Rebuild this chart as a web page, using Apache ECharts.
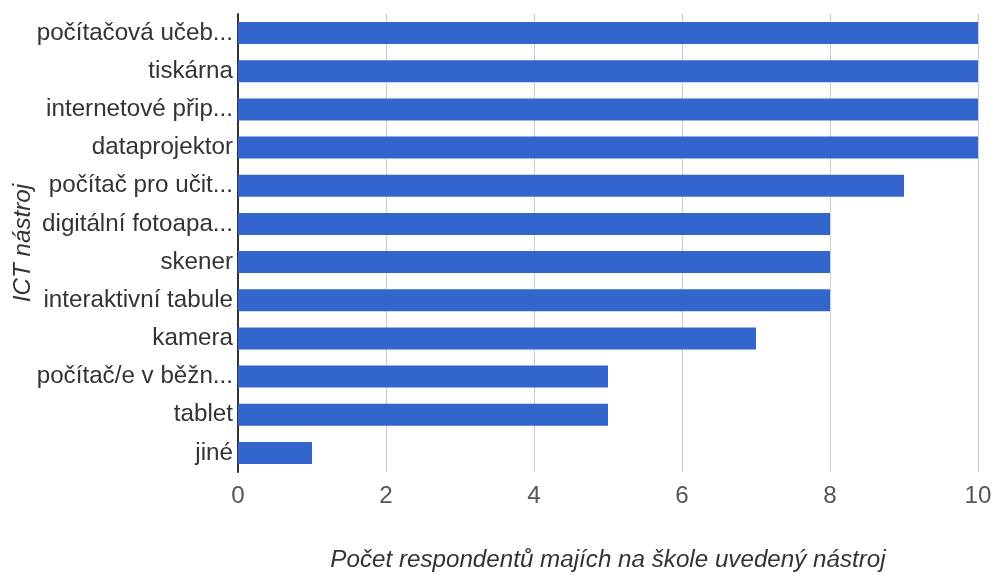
<!DOCTYPE html>
<html>
<head>
<meta charset="utf-8">
<script src="https://cdn.jsdelivr.net/npm/echarts@6/dist/echarts.min.js"></script>
<style>
  html, body { margin: 0; padding: 0; background: #fff; }
  #chart { width: 996px; height: 575px; }
</style>
</head>
<body>
<div id="chart"></div>
<script>
// ICT tools available at the respondents' schools (top to bottom)
const categories = [
  'počítačová učeb...',
  'tiskárna',
  'internetové přip...',
  'dataprojektor',
  'počítač pro učit...',
  'digitální fotoapa...',
  'skener',
  'interaktivní tabule',
  'kamera',
  'počítač/e v běžn...',
  'tablet',
  'jiné'
];
const counts = [10, 10, 10, 10, 9, 8, 8, 8, 7, 5, 5, 1];
const xTicks = [0, 2, 4, 6, 8, 10];

const xTitle = 'Počet respondentů majích na škole uvedený nástroj';
const yTitle = 'ICT nástroj';

const FONT = '"Liberation Sans", Arial, sans-serif';
const FS = 24.2;

const chart = echarts.init(document.getElementById('chart'), null, { renderer: 'canvas' });
chart.setOption({
  animation: false,
  backgroundColor: '#ffffff',
  grid: {
    left: 238, right: 18, top: 14, bottom: 103,
    containLabel: false,
    outerBoundsMode: 'none'
  },
  xAxis: {
    type: 'value',
    min: xTicks[0],
    max: xTicks[xTicks.length - 1],
    interval: xTicks[1] - xTicks[0],
    axisLine: { show: false },
    axisTick: { show: false },
    splitLine: { show: true, lineStyle: { color: '#cccccc', width: 1 } },
    axisLabel: { color: '#555555', fontSize: FS, fontFamily: FONT, margin: 12 },
    name: xTitle,
    nameLocation: 'middle',
    nameGap: 76,
    nameMoveOverlap: false,
    nameTextStyle: { color: '#333333', fontSize: FS, fontStyle: 'italic', fontFamily: FONT }
  },
  yAxis: {
    type: 'category',
    inverse: true,
    data: categories,
    axisLine: { show: true, onZero: false, lineStyle: { color: '#333333', width: 2 } },
    axisTick: { show: false },
    splitLine: { show: false },
    axisLabel: { color: '#333333', fontSize: FS, fontFamily: FONT, margin: 5 },
    name: yTitle,
    nameLocation: 'middle',
    nameGap: 203,
    nameRotate: 90,
    nameMoveOverlap: false,
    nameTextStyle: { color: '#333333', fontSize: FS, fontStyle: 'italic', fontFamily: FONT }
  },
  series: [{
    type: 'bar',
    data: counts,
    barWidth: 22,
    itemStyle: { color: '#3366cc' }
  }]
});
</script>
</body>
</html>
